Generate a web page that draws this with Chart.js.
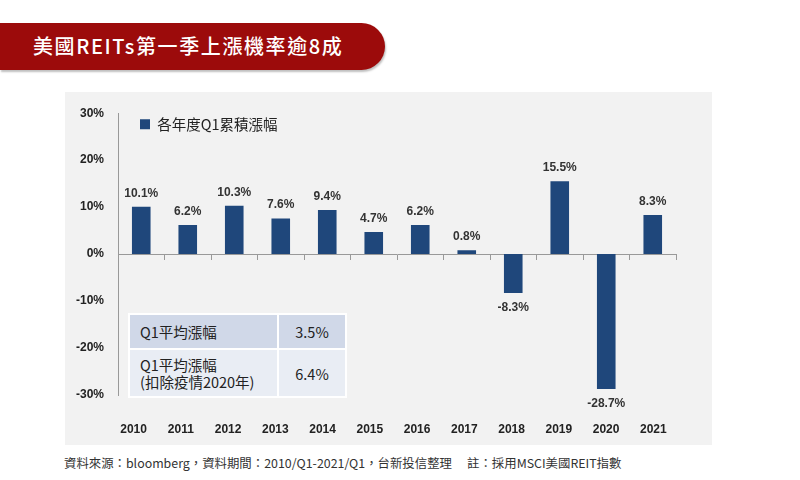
<!DOCTYPE html>
<html>
<head>
<meta charset="utf-8">
<script src="https://cdn.jsdelivr.net/npm/chart.js@4.4.1/dist/chart.umd.min.js"></script>
<style>
  body { margin: 0; width: 800px; height: 480px; background: #fff; position: relative; overflow: hidden;
         font-family: "Noto Sans CJK TC", "Noto Sans", sans-serif; }
  #banner { position: absolute; left: 0; top: 23px; width: 385px; height: 47px; background: #9c0b0b;
            border-radius: 0 24px 24px 0; box-shadow: 1px 2px 2px rgba(0,0,0,0.25); }
  #banner span { position: absolute; left: 33px; top: 8px; color: #fff; font-size: 20px; font-weight: 500; letter-spacing: 1.6px; }
  #panel { position: absolute; left: 65px; top: 92px; width: 647px; height: 353px; background: #f2f2f2; }
  #chartWrap { position: absolute; left: 65px; top: 92px; width: 647px; height: 353px; }
  #stats { position: absolute; left: 128px; top: 313px; border-collapse: collapse; font-size: 14.5px; color: #222; }
  #stats td { border: 2px solid #fff; padding: 0 0 0 10px; }
  #stats td.v { text-align: center; padding: 0; width: 66px; }
  #note { position: absolute; left: 64px; top: 454px; font-size: 12.4px; color: #333; }
</style>
</head>
<body>
<div id="banner"><span>美國REITs第一季上漲機率逾8成</span></div>
<div id="panel"></div>
<div id="chartWrap"><canvas id="reitChart"></canvas></div>
<table id="stats">
  <tr style="background:#d0d8e8;height:35px"><td style="width:137px">Q1平均漲幅</td><td class="v">3.5%</td></tr>
  <tr style="background:#e9edf4;height:48px"><td style="line-height:17px">Q1平均漲幅<br>(扣除疫情2020年)</td><td class="v">6.4%</td></tr>
</table>
<div id="note">資料來源：bloomberg，資料期間：2010/Q1-2021/Q1，台新投信整理　 註：採用MSCI美國REIT指數</div>
<script>
// Chart data
const years = ['2010', '2011', '2012', '2013', '2014', '2015', '2016', '2017', '2018', '2019', '2020', '2021'];
const q1Returns = [10.1, 6.2, 10.3, 7.6, 9.4, 4.7, 6.2, 0.8, -8.3, 15.5, -28.7, 8.3];
const seriesName = '各年度Q1累積漲幅';
const yTicks = [-30, -20, -10, 0, 10, 20, 30];

const barColor = '#1f477b';
const labelFont = '"Liberation Sans", Arial, sans-serif';

// Value labels above / below bars
const valueLabels = {
  id: 'valueLabels',
  afterDatasetsDraw(chart) {
    const ctx = chart.ctx;
    const meta = chart.getDatasetMeta(0);
    ctx.save();
    ctx.font = 'bold 12px ' + labelFont;
    ctx.fillStyle = '#333';
    ctx.textAlign = 'center';
    ctx.textBaseline = 'alphabetic';
    meta.data.forEach((bar, i) => {
      const v = q1Returns[i];
      const y = v >= 0 ? bar.y - 10 : bar.y + 18;
      ctx.fillText(v.toFixed(1) + '%', bar.x, y);
    });
    ctx.restore();
  }
};

new Chart(document.getElementById('reitChart'), {
  type: 'bar',
  data: {
    labels: years,
    datasets: [{
      label: seriesName,
      data: q1Returns,
      backgroundColor: barColor,
      barPercentage: 0.4,
      categoryPercentage: 1.0,
      xAxisID: 'x0'
    }]
  },
  options: {
    responsive: true,
    maintainAspectRatio: false,
    animation: false,
    layout: { padding: { top: 21, right: 36, bottom: 0, left: 0 } },
    plugins: {
      legend: {
        position: 'chartArea',
        align: 'start',
        title: { display: true, text: '', padding: 0, font: { size: 2.5 } },
        labels: {
          boxWidth: 10,
          boxHeight: 10,
          padding: 22,
          color: '#222',
          font: { size: 14.5, family: '"Noto Sans CJK TC", sans-serif' }
        }
      },
      tooltip: { enabled: false }
    },
    scales: {
      // year labels along the bottom of the panel
      x: {
        type: 'linear',
        position: 'bottom',
        offset: false,
        min: 2009.67,
        max: 2021.48,
        afterBuildTicks: (axis) => { axis.ticks = years.map(y => ({ value: Number(y) })); },
        grid: { display: false, drawTicks: false, offset: false },
        border: { display: false },
        afterFit: (s) => { s.height = 50; },
        ticks: {
          color: '#222',
          padding: 27,
          font: { size: 12, weight: 'bold', family: labelFont },
          callback: (v) => String(v)
        }
      },
      // zero line with tick marks
      x0: {
        type: 'category',
        labels: years,
        position: { y: 0 },
        offset: true,
        afterFit: (s) => { s.height = 0; },
        grid: { display: true, offset: true, drawOnChartArea: false, drawTicks: true, tickLength: 5, color: '#999' },
        border: { display: true, color: '#999' },
        ticks: { display: false }
      },
      y: {
        min: -30,
        max: 30,
        afterBuildTicks: (axis) => { axis.ticks = yTicks.map(v => ({ value: v })); },
        afterFit: (s) => { s.width = 53; },
        grid: { display: false, drawTicks: false },
        border: { display: true, color: '#999' },
        ticks: {
          color: '#222',
          padding: 14,
          font: { size: 12, weight: 'bold', family: labelFont },
          callback: (v) => v + '%'
        }
      }
    }
  },
  plugins: [valueLabels]
});
</script>
</body>
</html>
